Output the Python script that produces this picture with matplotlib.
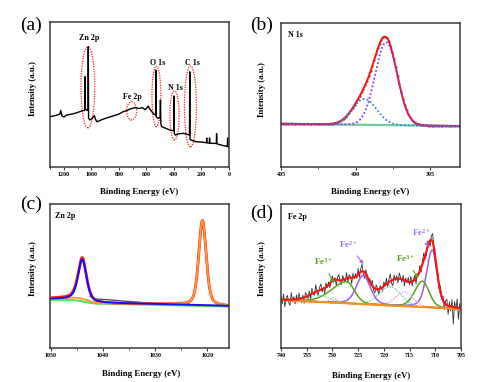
import numpy as np
import matplotlib
matplotlib.use("Agg")
import matplotlib.pyplot as plt
from matplotlib.patches import Ellipse
from matplotlib.ticker import MultipleLocator

plt.rcParams['font.family'] = ['Liberation Serif', 'DejaVu Serif']
plt.rcParams['mathtext.fontset'] = 'stix'
plt.rcParams['mathtext.default'] = 'regular'

# ---------------- (a) survey spectrum ----------------
survey_be = [1300, 1260, 1228, 1222, 1212, 1198, 1180, 1140, 1106, 1075, 1060, 1050, 1047, 1045, 1043,
             1030, 1024, 1022, 1020, 1012, 1000, 985, 978, 970, 960, 940, 900, 850, 800, 770, 740,
             720, 700, 680, 660, 646, 630, 610, 595, 586, 575, 560, 545, 536, 533, 531, 529, 515,
             505, 500, 498, 495, 490, 480, 460, 430, 405, 401, 399, 397, 390, 360, 330, 300, 290,
             287, 285, 283, 275, 240, 200, 170, 164, 162, 160, 143, 141, 139, 120, 92, 90, 88, 60,
             30, 12, 10, 8, 0]
survey_int = [0.347, 0.355, 0.365, 0.39, 0.35, 0.345, 0.358, 0.365, 0.374, 0.385, 0.39, 0.39, 0.40,
              0.623, 0.40, 0.39, 0.40, 0.83, 0.34, 0.325, 0.33, 0.345, 0.355, 0.33, 0.312, 0.32, 0.335,
              0.35, 0.365, 0.381, 0.39, 0.40, 0.405, 0.41, 0.405, 0.405, 0.41, 0.395, 0.41, 0.42, 0.40,
              0.381, 0.365, 0.36, 0.36, 0.669, 0.345, 0.336, 0.34, 0.34, 0.462, 0.30, 0.278, 0.275,
              0.267, 0.255, 0.25, 0.25, 0.49, 0.23, 0.221, 0.23, 0.232, 0.225, 0.22, 0.22, 0.657, 0.19,
              0.186, 0.174, 0.172, 0.168, 0.168, 0.20, 0.166, 0.165, 0.20, 0.164, 0.163, 0.162, 0.23,
              0.16, 0.152, 0.145, 0.142, 0.20, 0.14, 0.138]
survey_labels = ["Zn 2p", "Fe 2p", "O 1s", "N 1s", "C 1s"]
survey_label_be = [1017, 700, 521, 387, 266]
survey_label_int = [0.89, 0.485, 0.72, 0.547, 0.715]
ell_be = [1025, 707, 527, 396, 280]
ell_int = [0.55, 0.387, 0.487, 0.356, 0.418]
ell_w = [100, 73, 65, 67, 87]
ell_h = [0.56, 0.126, 0.42, 0.34, 0.557]

# ---------------- (b) N 1s ----------------
b_bg_be = [405, 393]
b_bg_int = [0.300, 0.284]
b_centers = [399.4, 397.95]
b_amps = [0.18, 0.575]
b_fwhm = [1.9, 1.75]

# ---------------- (c) Zn 2p ----------------
c_bg_be = [1050.2, 1046, 1044.5, 1043, 1041.5, 1038, 1030, 1022, 1015.8]
c_bg_int = [0.335, 0.333, 0.328, 0.316, 0.308, 0.305, 0.300, 0.293, 0.287]
c_orbase_be = [1050.2, 1046.5, 1045.5, 1044, 1042, 1040, 1030, 1024, 1015.8]
c_orbase_int = [0.345, 0.347, 0.350, 0.343, 0.318, 0.310, 0.305, 0.298, 0.289]
c_blue = (1044.0, 0.285, 1.9)
c_orange = (1020.9, 0.59, 1.7)
c_raw_be = [1042.5, 1041.3, 1039, 1036.2, 1033, 1031.1, 1028, 1024.7, 1023.5]
c_raw_int = [0.36, 0.340, 0.335, 0.326, 0.318, 0.310, 0.305, 0.303, 0.305]

# ---------------- (d) Fe 2p ----------------
d_bg_be = [740, 705]
d_bg_int = [0.333, 0.271]
d_centers = [710.6, 712.5, 716.0, 718.8, 724.0, 727.2, 729.8, 732.6]
d_amps = [0.40, 0.18, 0.10, 0.13, 0.20, 0.15, 0.035, 0.045]
d_fwhm_hi = [2.6, 3.5, 4.0, 5.0, 3.2, 7.0, 1.6, 5.0]
d_fwhm_lo = [2.2, 3.0, 4.0, 5.0, 3.2, 3.5, 1.6, 5.0]
d_eta = [0.3, 0.2, 0.0, 0.0, 0.3, 0.2, 0.0, 0.0]
d_kind = ['fe2', 'fe3', 'sat1', 'sat2', 'fe2', 'fe3', 'sat1', 'sat2']
d_noise = [2, -3, 4, -5, 1, 3, -2, -4, 5, -1, 2, -3, 3, -2, 4, -1, -3, 2, -4, 3,
           1, -2, 3, -3, 4, 0, -2, 5, -1, -3, 2, 4, -2, 1, -4, 3, -1, 2, -3, 1,
           3, -2, 1, -4, 2, 4, -1, -3, 3, 0, -2, 4, -3, 2, 1, -4, 3, -1, 2, -2,
           4, -3, 2, 5, -2, -4, 3, 1, -3, 2, -1, 4, -2, -3, 3, 1, -4, 2, 0, -3,
           3, -1, 4, -3, 2, 5, -2, -4, 3, -1, 2, -3, 4, 1, -2, 3, -4, 2, -1, 3,
           -2, 4, -3, 1, 3, -4, 2, -1, 4, -3, 2, 5, -2, -3, 4, 1, -4, 3, 6, -2,
           3, -4, 2, -3, 4, -2, 3, -5, 2, 4, -6, 3, -3, 5, -12, 4, -2, 6, -8, 3,
           -2]
d_ann_text = [r'Fe$^{3+}$', r'Fe$^{2+}$', r'Fe$^{3+}$', r'Fe$^{2+}$']
d_ann_xy = [(729.8, 0.45), (724.0, 0.583), (713.3, 0.484), (711.4, 0.703)]
d_ann_text_xy = [(731.8, 0.60), (726.9, 0.72), (715.8, 0.62), (712.6, 0.80)]
d_ann_kind = ['fe3', 'fe2', 'fe3', 'fe2']


def pv(x, c, a, w_hi, w_lo, eta):
    w = np.where(x >= c, w_hi, w_lo)
    d = (x - c) / (w / 2.0)
    return a * ((1 - eta) * np.exp(-np.log(2) * d ** 2) + eta / (1 + d ** 2))


fig = plt.figure(figsize=(5, 3.82), dpi=100)
ax_a = fig.add_axes([0.100, 0.563, 0.358, 0.379])
ax_b = fig.add_axes([0.562, 0.563, 0.358, 0.377])
ax_c = fig.add_axes([0.100, 0.089, 0.358, 0.377])
ax_d = fig.add_axes([0.562, 0.089, 0.360, 0.377])

for ax in (ax_a, ax_b, ax_c, ax_d):
    for s in ax.spines.values():
        s.set_color('#3a3a3a')
        s.set_linewidth(1.1)
    ax.set_yticks([])
    ax.set_ylim(0, 1)
    ax.tick_params(axis='x', which='major', direction='out', length=2.2, width=0.8,
                   pad=1.2, labelsize=4.3, color='#3a3a3a')
    ax.tick_params(axis='x', which='minor', direction='out', length=1.4, width=0.6, color='#3a3a3a')
    ax.set_xlabel('Binding Energy (eV)', fontsize=6.4, fontweight='bold')
    ax.set_ylabel('Intensity (a.u.)', fontsize=6.4, fontweight='bold')

# (a)
ax_a.plot(survey_be, survey_int, color='black', lw=1.0)
for t, x, y in zip(survey_labels, survey_label_be, survey_label_int):
    ax_a.text(x, y, t, ha='center', va='center', fontsize=5.8, fontweight='bold')
for x, y, w, h in zip(ell_be, ell_int, ell_w, ell_h):
    ax_a.add_patch(Ellipse((x, y), w, h, fill=False, ec='#ff2020', ls=(0, (1, 1)), lw=0.9))
ax_a.set_xlim(1300, 0)
ax_a.xaxis.set_major_locator(MultipleLocator(200))
ax_a.xaxis.set_minor_locator(MultipleLocator(100))

# (b)
xb = np.linspace(405, 393, 600)
bg_b = np.interp(xb, b_bg_be[::-1], b_bg_int[::-1])
pb = [pv(xb, c, a, w, w, 0.0) for c, a, w in zip(b_centers, b_amps, b_fwhm)]
env_b = bg_b + pb[0] + pb[1]
ax_b.plot(xb, bg_b, color='#6fcf97', lw=1.6)
ax_b.plot(xb[::6], env_b[::6], ls='none', marker='.', ms=1.2, color='#555555')
ax_b.plot(xb, env_b, color='#ff1010', lw=1.4)
ax_b.plot(xb, bg_b + pb[0], color='#3d86e8', lw=1.3, ls=(0, (1, 1.2)))
ax_b.plot(xb, bg_b + pb[1], color='#8a3ff0', lw=1.3, ls=(0, (1, 1.2)))
ax_b.text(0.04, 0.915, 'N 1s', transform=ax_b.transAxes, fontsize=5.8, fontweight='bold',
          ha='left', va='center')
ax_b.set_xlim(405, 393)
ax_b.xaxis.set_major_locator(MultipleLocator(5))
ax_b.xaxis.set_minor_locator(MultipleLocator(2.5))

# (c)
xc = np.linspace(1050.2, 1015.8, 900)
bg_c = np.interp(xc, c_bg_be[::-1], c_bg_int[::-1])
orb_c = np.interp(xc, c_orbase_be[::-1], c_orbase_int[::-1])
blue_c = pv(xc, c_blue[0], c_blue[1], c_blue[2], c_blue[2], 0.5)
or_c = pv(xc, c_orange[0], c_orange[1], c_orange[2], c_orange[2], 0.4)
ax_c.plot(xc, bg_c, color='#4ee44e', lw=1.4)
ax_c.plot(c_raw_be, c_raw_int, color='#555555', lw=1.0)
ax_c.plot(xc, orb_c + blue_c + or_c, color='#ff1a1a', lw=2.0)
ax_c.plot(xc, orb_c + or_c, color='#ff9933', lw=1.4)
ax_c.plot(xc, bg_c + blue_c + 0.006, color='#1010ff', lw=1.4)
ax_c.text(0.028, 0.92, 'Zn 2p', transform=ax_c.transAxes, fontsize=5.8, fontweight='bold',
          ha='left', va='center')
ax_c.set_xlim(1050.2, 1015.8)
ax_c.xaxis.set_major_locator(MultipleLocator(10))
ax_c.xaxis.set_minor_locator(MultipleLocator(5))

# (d)
xd = np.linspace(740, 705, 141)
xf = np.linspace(740, 705, 700)
bg_d = np.interp(xf, d_bg_be[::-1], d_bg_int[::-1])
comps = [pv(xf, c, a, wh, wl, e) for c, a, wh, wl, e in
         zip(d_centers, d_amps, d_fwhm_hi, d_fwhm_lo, d_eta)]
env_d = bg_d + np.sum(comps, axis=0)
raw_d = np.interp(xd, xf[::-1], env_d[::-1]) + np.array(d_noise) * 0.01
styles = {'fe2': dict(color='#9d5cf0', lw=1.1, ls='-'),
          'fe3': dict(color='#5ea21c', lw=1.1, ls='-'),
          'sat1': dict(color='#d0a0f5', lw=1.0, ls=(0, (1, 1))),
          'sat2': dict(color='#6fd0b0', lw=1.0, ls=(0, (1, 1)))}
ax_d.plot(xd, raw_d, color='#333333', lw=0.6)
for comp, k in zip(comps, d_kind):
    ax_d.plot(xf, bg_d + comp, **styles[k])
ax_d.plot(xf, bg_d, color='#ff8c1a', lw=1.5)
ax_d.plot(xf, env_d, color='#ff1010', lw=1.5)
ann_col = {'fe2': '#a070e8', 'fe3': '#5e9e1c'}
for t, xy, txy, k in zip(d_ann_text, d_ann_xy, d_ann_text_xy, d_ann_kind):
    ax_d.annotate(t, xy=xy, xytext=txy, ha='center', va='center', fontsize=6.6,
                  fontweight='bold', color=ann_col[k],
                  arrowprops=dict(arrowstyle='-|>', color=ann_col[k], lw=0.8,
                                  mutation_scale=5, shrinkA=3, shrinkB=0))
ax_d.text(0.04, 0.91, 'Fe 2p', transform=ax_d.transAxes, fontsize=5.8, fontweight='bold',
          ha='left', va='center')
ax_d.set_xlim(740, 705)
ax_d.xaxis.set_major_locator(MultipleLocator(5))

for ax in (ax_a, ax_b, ax_c, ax_d):
    for lab in ax.get_xticklabels():
        lab.set_fontweight('bold')

ax_a.yaxis.set_label_coords(-0.074, 0.54)
ax_c.yaxis.set_label_coords(-0.074, 0.55)
ax_b.yaxis.set_label_coords(-0.084, 0.54)
ax_d.yaxis.set_label_coords(-0.084, 0.55)
ax_a.xaxis.set_label_coords(0.5, -0.145)
ax_b.xaxis.set_label_coords(0.5, -0.145)
ax_c.xaxis.set_label_coords(0.507, -0.153)
ax_d.xaxis.set_label_coords(0.5, -0.165)

for t, x, y in [('(a)', 0.04, 0.933), ('(b)', 0.50, 0.933), ('(c)', 0.041, 0.466), ('(d)', 0.50, 0.442)]:
    fig.text(x, y, t, fontsize=14, ha='left', va='center')

fig.savefig('out.png', dpi=100)
